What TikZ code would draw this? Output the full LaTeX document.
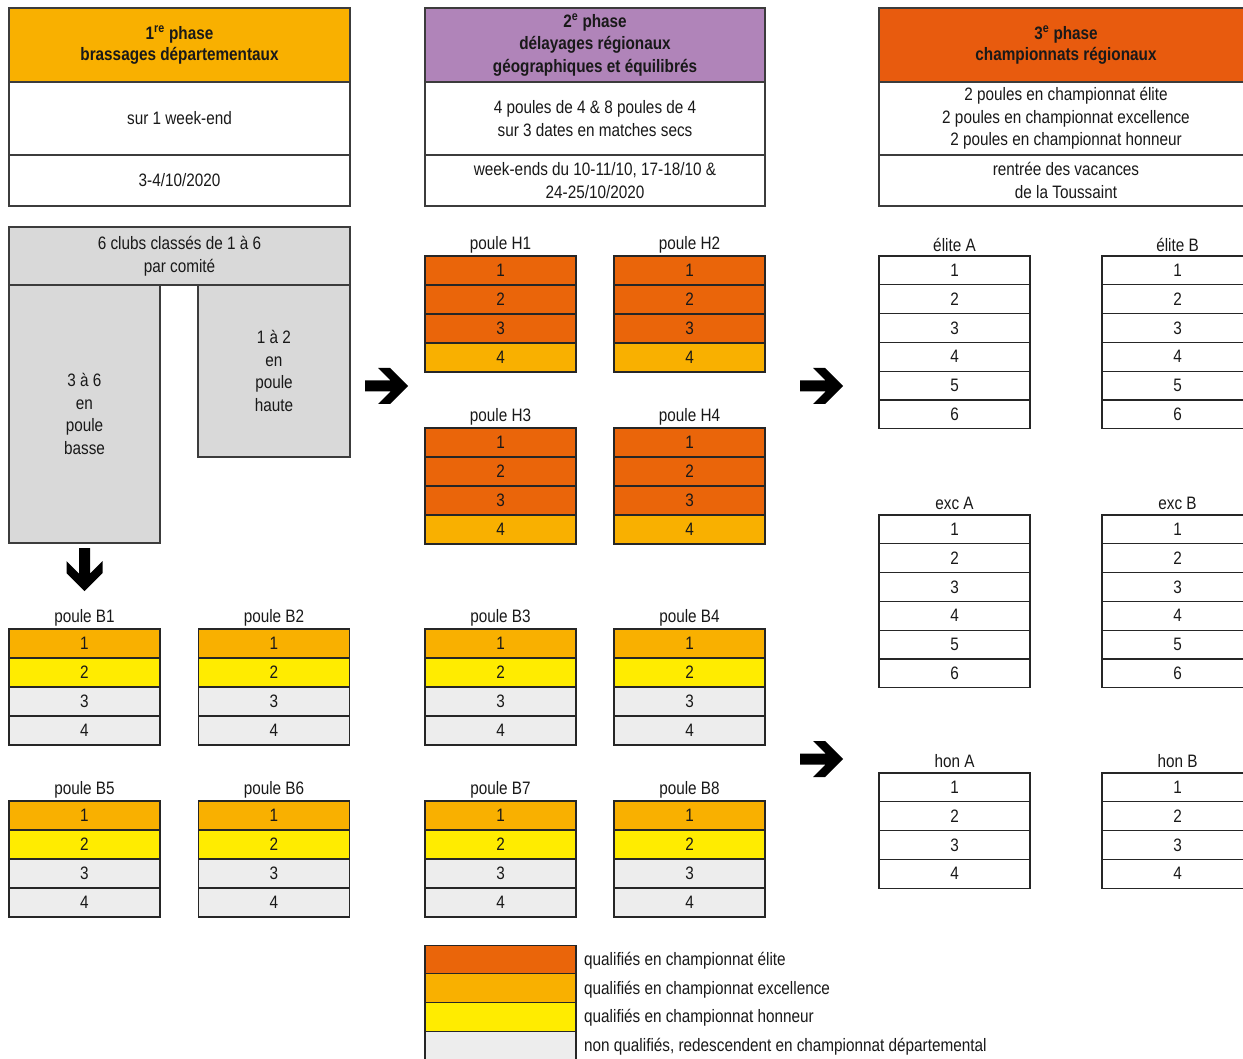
\documentclass[tikz,border=0pt]{standalone}
\usepackage{fontspec}
\setmainfont{Liberation Sans}[FakeStretch=0.85]
\definecolor{cdark}{HTML}{EA650A}
\definecolor{chead}{HTML}{E85B0E}
\definecolor{corg}{HTML}{F9B000}
\definecolor{cyel}{HTML}{FFEC00}
\definecolor{clg}{HTML}{EDEDED}
\definecolor{cgray}{HTML}{D9D9D9}
\definecolor{cpurp}{HTML}{B084B9}
\definecolor{cline}{HTML}{262626}
\tikzset{
  every node/.style={font=\fontsize{18}{22.5}\selectfont, text=black!90},
  cell/.style={draw=cline, line width=1.2pt, minimum width=151pt, minimum height=29pt, inner sep=0pt},
  ecell/.style={cell, fill=white, minimum height=28.8pt},
  ttl/.style={inner sep=0pt},
  hdr/.style={draw=cline!90, line width=1.2pt, align=center, inner sep=0pt},
  gbox/.style={draw=cline!90, line width=1.2pt, fill=cgray, align=center, inner sep=0pt},
  barrow/.pic={\fill[black] (-43,-5.5) -- (-17.5,-5.5) -- (-30,-18) -- (-18,-18) -- (0,0) -- (-18,18) -- (-30,18) -- (-17.5,5.5) -- (-43,5.5) -- cycle;}
}
\newcommand\poule[5]{%
  \node[ttl] (#1t) at (#2,{#3-11.5}) {#4};
  \foreach \c [count=\i] in {#5} {
    \node[cell, fill=\c] (#1r\i) at (#2,{#3+14.5+29*(\i-1)}) {\i};
  }
}
\newcommand\etable[5]{%
  \node[ttl] (#1t) at (#2,{#3-11.5}) {#4};
  \foreach \i in {1,...,#5} {
    \node[ecell] (#1r\i) at (#2,{#3+14.4+28.8*(\i-1)}) {\i};
  }
}
\newcommand\sups[1]{\smash{\textsuperscript{#1}}}
\begin{document}
\begin{tikzpicture}[x=1pt,y=-1pt]
\useasboundingbox (0,0) rectangle (1243,1059);
\clip (0,0) rectangle (1243,1059);
\fill[white] (0,0) rectangle (1243,1059);

% phase headers
\node[hdr, fill=corg, minimum width=341pt, minimum height=74pt] (p1h) at (179.5,45)
  {\bfseries 1\sups{re} phase\\[-1.5pt]\bfseries brassages départementaux};
\node[hdr, fill=white, minimum width=341pt, minimum height=73pt] (p1a) at (179.5,118.5) {sur 1 week-end};
\node[hdr, fill=white, minimum width=341pt, minimum height=51pt] (p1b) at (179.5,180.5) {3-4/10/2020};

\node[hdr, fill=cpurp, minimum width=340pt, minimum height=74pt] (p2h) at (595,45)
  {\bfseries 2\sups{e} phase\\\bfseries délayages régionaux\\\bfseries géographiques et équilibrés};
\node[hdr, fill=white, minimum width=340pt, minimum height=73pt] (p2a) at (595,118.5)
  {4 poules de 4 \& 8 poules de 4\\[1pt]sur 3 dates en matches secs};
\node[hdr, fill=white, minimum width=340pt, minimum height=51pt] (p2b) at (595,180.5)
  {week-ends du 10-11/10, 17-18/10 \&\\24-25/10/2020};

\node[hdr, fill=chead, minimum width=374pt, minimum height=74pt] (p3h) at (1066,45)
  {\bfseries 3\sups{e} phase\\[-1.5pt]\bfseries championnats régionaux};
\node[hdr, fill=white, minimum width=374pt, minimum height=73pt] (p3a) at (1066,118.5)
  {2 poules en championnat élite\\2 poules en championnat excellence\\2 poules en championnat honneur};
\node[hdr, fill=white, minimum width=374pt, minimum height=51pt] (p3b) at (1066,180.5)
  {rentrée des vacances\\de la Toussaint};

% gray block
\node[gbox, minimum width=341pt, minimum height=58pt] (club) at (179.5,256) {6 clubs classés de 1 à 6\\par comité};
\node[gbox, minimum width=151pt, minimum height=258pt] (basse) at (84.5,414) {3 à 6\\en\\poule\\basse};
\node[gbox, minimum width=152pt, minimum height=172pt] (haute) at (274,371) {1 à 2\\en\\poule\\haute};

% arrows
\pic at (84.5,591) [rotate=-90] {barrow};
\pic at (408,386) {barrow};
\pic at (843,386) {barrow};
\pic at (843,759) {barrow};

% poules H
\poule{H1}{500.5}{256}{poule H1}{cdark,cdark,cdark,corg}
\poule{H2}{689.5}{256}{poule H2}{cdark,cdark,cdark,corg}
\poule{H3}{500.5}{428}{poule H3}{cdark,cdark,cdark,corg}
\poule{H4}{689.5}{428}{poule H4}{cdark,cdark,cdark,corg}

% poules B
\poule{B1}{84.5}{629}{poule B1}{corg,cyel,clg,clg}
\poule{B2}{274}{629}{poule B2}{corg,cyel,clg,clg}
\poule{B3}{500.5}{629}{poule B3}{corg,cyel,clg,clg}
\poule{B4}{689.5}{629}{poule B4}{corg,cyel,clg,clg}
\poule{B5}{84.5}{801}{poule B5}{corg,cyel,clg,clg}
\poule{B6}{274}{801}{poule B6}{corg,cyel,clg,clg}
\poule{B7}{500.5}{801}{poule B7}{corg,cyel,clg,clg}
\poule{B8}{689.5}{801}{poule B8}{corg,cyel,clg,clg}

% phase 3 tables
\etable{EA}{954.5}{256}{élite A}{6}
\etable{EB}{1177.5}{256}{élite B}{6}
\etable{XA}{954.5}{515}{exc A}{6}
\etable{XB}{1177.5}{515}{exc B}{6}
\etable{HA}{954.5}{773}{hon A}{4}
\etable{HB}{1177.5}{773}{hon B}{4}

% legend
\node[cell, fill=cdark, minimum height=28.75pt] (L1) at (500.5,959.5) {};
\node[cell, fill=corg, minimum height=28.75pt] (L2) at (500.5,988.25) {};
\node[cell, fill=cyel, minimum height=28.75pt] (L3) at (500.5,1017) {};
\node[cell, fill=clg, minimum height=28.75pt] (L4) at (500.5,1045.75) {};
\node[anchor=west, inner sep=0pt] (L1t) at (584,961) {qualifiés en championnat élite};
\node[anchor=west, inner sep=0pt] (L2t) at (584,989.5) {qualifiés en championnat excellence};
\node[anchor=west, inner sep=0pt] (L3t) at (584,1018) {qualifiés en championnat honneur};
\node[anchor=west, inner sep=0pt] (L4t) at (584,1046.5) {non qualifiés, redescendent en championnat départemental};
\end{tikzpicture}
\end{document}
